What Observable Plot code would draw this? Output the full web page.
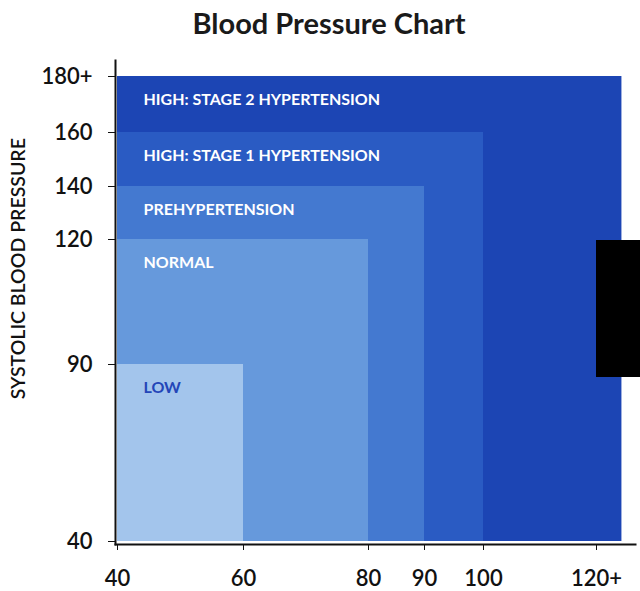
<!DOCTYPE html>
<html>
<head>
<meta charset="utf-8">
<script src="https://cdn.jsdelivr.net/npm/d3@7"></script>
<script src="https://cdn.jsdelivr.net/npm/@observablehq/plot@0.6"></script>
<style>
  html, body { margin: 0; padding: 0; background: #fff; }
  body { width: 640px; height: 591px; position: relative; overflow: hidden; font-family: Lato, "Open Sans", sans-serif; }
  #title { height: 44px; line-height: 46px; text-align: center; padding-left: 18px; box-sizing: border-box;
           font-size: 29px; font-weight: 700; color: #1a1a1a; }
  #chart svg { display: block; }
  #mask { position: absolute; left: 596px; top: 240px; width: 44px; height: 137px; background: #000; }
</style>
</head>
<body>
<div id="title">Blood Pressure Chart</div>
<div id="chart"></div>
<div id="mask"></div>
<script>
// Categories (drawn largest first)
const levels = ["HIGH: STAGE 2 HYPERTENSION", "HIGH: STAGE 1 HYPERTENSION", "PREHYPERTENSION", "NORMAL", "LOW"];
const diastolicUpper = [124.5, 100, 90, 80, 60];
const systolicUpper = [180, 160, 140, 120, 90];
const fillColors = ["#1c45b4", "#2a5bc3", "#4479d0", "#6699dc", "#a3c5ec"];
const labelColors = ["#ffffff", "#ffffff", "#ffffff", "#ffffff", "#2346b8"];
const xTicks = [40, 60, 80, 90, 100, 120];
const xTickLabels = ["40", "60", "80", "90", "100", "120+"];
const yTicks = [40, 90, 120, 140, 160, 180];
const yTickLabels = ["40", "90", "120", "140", "160", "180+"];

const data = levels.map((name, i) => ({
  name, x2: diastolicUpper[i], y2: systolicUpper[i], fill: fillColors[i], color: labelColors[i]
}));

const T = 44; // title height
const W = 640, H = 591 - T;

const chart = Plot.plot({
  width: W,
  height: H,
  marginLeft: 115,
  marginRight: 5,
  marginTop: 16,
  marginBottom: 47,
  style: { fontFamily: "Lato, 'Open Sans', sans-serif", background: "#fff" },
  x: { type: "linear", domain: xTicks, range: [117, 243, 368, 424, 483, 596] },
  y: { type: "linear", domain: yTicks, range: [497, 320, 195, 142, 88, 32] },
  color: { type: "identity" },
  marks: [
    Plot.rect(data, { x1: 40, y1: 40, x2: "x2", y2: "y2", fill: "fill" }),
    Plot.text(data, {
      x: 40, y: "y2", text: "name", fill: "color", textAnchor: "start",
      dx: 26, dy: 23, fontSize: 16, fontWeight: 700
    }),
    Plot.frame({ anchor: "left", stroke: "#111", strokeWidth: 2 }),
    Plot.frame({ anchor: "bottom", stroke: "#111", strokeWidth: 2 }),
    Plot.axisY(yTicks, {
      anchor: "left", tickSize: 7, tickPadding: 16, label: null,
      tickFormat: (d, i) => yTickLabels[yTicks.indexOf(d)],
      fontSize: 22, fontWeight: 600, fill: "#111", stroke: "#111"
    }),
    Plot.axisX(xTicks, {
      anchor: "bottom", tickSize: 6, tickPadding: 20, label: null,
      tickFormat: d => xTickLabels[xTicks.indexOf(d)],
      fontSize: 22, fontWeight: 600, fill: "#111", stroke: "#111"
    }),
    Plot.text(["SYSTOLIC BLOOD PRESSURE"], {
      frameAnchor: "left", y: 113, text: d => d, rotate: -90, dx: -97,
      textAnchor: "middle", fontSize: 19.5, fontWeight: 600, fill: "#111"
    })
  ]
});
document.getElementById("chart").appendChild(chart);
</script>
</body>
</html>
